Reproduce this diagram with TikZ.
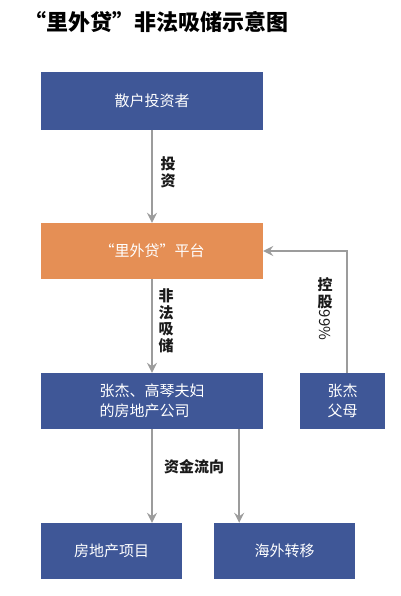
\documentclass[tikz,border=0pt]{standalone}
\usepackage{fontspec}
\newfontfamily\cjk{Noto Sans CJK SC}
\usetikzlibrary{arrows.meta,positioning,calc}
\definecolor{slate}{HTML}{3F5797}
\definecolor{amber}{HTML}{E58F55}
\definecolor{wire}{HTML}{9C9C9C}
\definecolor{ink}{HTML}{1A1A1A}

\begin{document}
\begin{tikzpicture}[x=1pt, y=-1pt,
  box/.style={fill=slate, text=white, inner sep=0pt, minimum height=56pt,
    font=\cjk\fontsize{15}{20}\selectfont},
  flow/.style={draw=wire, line width=1.5pt, -{Stealth[length=10pt, width=10pt, inset=3.5pt]}},
  tag/.style={text=ink, inner sep=0pt, align=center, font=\cjk\bfseries\fontsize{15}{17}\selectfont}]
  \useasboundingbox (0,0) rectangle (400,596);
  \fill[white] (0,0) rectangle (400,596);

  % title
  \node[anchor=west, inner sep=0pt, font=\cjk\bfseries\fontsize{22}{26}\selectfont] (title) at (24,22) {“里外贷”非法吸储示意图};

  % boxes
  \node[box, minimum width=222pt, minimum height=58pt] (investors) at (152,101) {散户投资者};
  \node[box, fill=amber, minimum width=222pt] (platform) at (152,251) {“里外贷”平台};
  \node[box, minimum width=222pt, align=left] (company) at (152,401) {张杰、高琴夫妇\\的房地产公司};
  \node[box, minimum width=85pt, align=center] (parents) at (342.5,401) {张杰\\父母};
  \node[box, minimum width=141pt] (estate) at (111.5,551) {房地产项目};
  \node[box, minimum width=141pt] (abroad) at (284.5,551) {海外转移};

  % connectors
  \draw[flow] (investors.south) -- (platform.north);
  \draw[flow] (platform.south) -- (company.north);
  \draw[flow] ([xshift=4.5pt]parents.north) |- (platform.east);
  \coordinate (split) at ($(company.south west)!0.892!(company.south east)$);
  \draw[flow] (company.south) -- (company.south |- estate.north);
  \draw[flow] (split) -- (split |- abroad.north);

  % labels
  \node[tag] (invest) at (168,172) {投\\资};
  \node[tag, font=\cjk\bfseries\fontsize{15}{16.5}\selectfont] (illegal) at (166,321) {非\\法\\吸\\储};
  \node[tag, anchor=north] (stake) at (325,277) {控\\股};
  \node[tag, font=\cjk\fontsize{15}{17}\selectfont, rotate=-90, anchor=west] (stakepct) at ([yshift=-1pt]stake.south) {99\%};
  \node[tag] (fundflow) at (194,467) {资金流向};
\end{tikzpicture}
\end{document}
